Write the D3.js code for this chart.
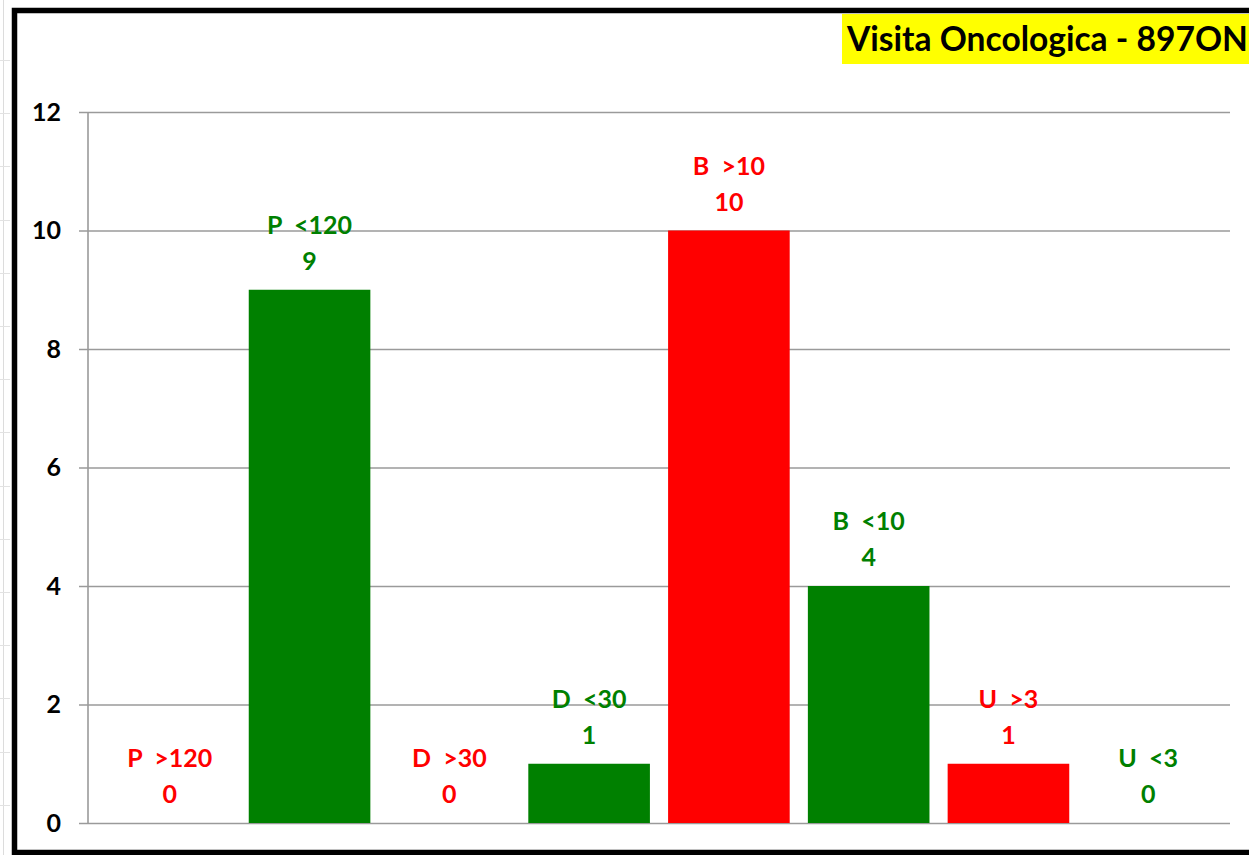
<!DOCTYPE html>
<html>
<head>
<meta charset="utf-8">
<script src="https://cdn.jsdelivr.net/npm/d3@7"></script>
<style>
  html, body { margin: 0; padding: 0; background: #fff; overflow: hidden; }
  svg { display: block; }
  text { font-family: Lato, "Open Sans", sans-serif; font-weight: bold; }
</style>
</head>
<body>
<svg id="chart" width="1249" height="855"></svg>
<script>
// ---- data ----
const categories = ["P  >120", "P  <120", "D  >30", "D  <30", "B  >10", "B  <10", "U  >3", "U  <3"];
const values = [0, 9, 0, 1, 10, 4, 1, 0];
const barColors = ["#FF0000", "#008000", "#FF0000", "#008000", "#FF0000", "#008000", "#FF0000", "#008000"];
const yTicks = [0, 2, 4, 6, 8, 10, 12];
const titleText = "Visita Oncologica - 897ON";

(function () {
const svg = d3.select("#chart");
const W = 1249, H = 855;

// faint spreadsheet cell lines at the far left
const rowLines = d3.range(60, H, 53.2);
svg.append("line").attr("x1", 3.5).attr("x2", 3.5).attr("y1", 0).attr("y2", H)
  .attr("stroke", "#dcdcdc").attr("stroke-width", 1);
svg.selectAll("line.row").data(rowLines).enter().append("line").attr("class", "row")
  .attr("x1", 0).attr("x2", 10).attr("y1", d => Math.round(d) + 0.5).attr("y2", d => Math.round(d) + 0.5)
  .attr("stroke", "#e2e2e2").attr("stroke-width", 1);

// chart frame
svg.append("rect").attr("x", 14.5).attr("y", 10.5).attr("width", 1300).attr("height", 842)
  .attr("fill", "#fff").attr("stroke", "#000").attr("stroke-width", 5.5);

const pL = 88, pR = 1230, pT = 112, pB = 823;

const x = d3.scaleBand().domain(categories).range([pL, pR]).paddingInner(0.13).paddingOuter(0.15);
const y = d3.scaleLinear().domain([0, 12]).range([pB, pT]);

// gridlines + ticks
const yAxis = d3.axisLeft(y).tickValues(yTicks).tickSize(-(pR - pL)).tickSizeOuter(0).tickPadding(27);
const gy = svg.append("g").attr("transform", `translate(${pL},0)`).call(yAxis);
gy.select(".domain").remove();
gy.selectAll(".tick line").attr("stroke", "#9a9a9a").attr("stroke-width", 1.6).attr("x1", -9);
gy.selectAll(".tick text").attr("fill", "#000").style("font-size", "25px")
  .style("font-family", "Lato, 'Open Sans', sans-serif").style("font-weight", "bold");

// vertical axis line
svg.append("line").attr("x1", pL).attr("x2", pL).attr("y1", y(12)).attr("y2", y(0))
  .attr("stroke", "#9a9a9a").attr("stroke-width", 1.6);

// bars
svg.selectAll("rect.bar").data(values).enter().append("rect").attr("class", "bar")
  .attr("x", (d, i) => x(categories[i]))
  .attr("width", x.bandwidth())
  .attr("y", d => y(d))
  .attr("height", d => y(0) - y(d))
  .attr("fill", (d, i) => barColors[i]);

// data labels
const lbl = svg.selectAll("g.lbl").data(values).enter().append("g").attr("class", "lbl");
lbl.append("text")
  .attr("x", (d, i) => x(categories[i]) + x.bandwidth() / 2)
  .attr("y", d => y(d) - 56)
  .attr("text-anchor", "middle").attr("fill", (d, i) => barColors[i])
  .style("font-size", "25px").style("white-space", "pre")
  .text((d, i) => categories[i]);
lbl.append("text")
  .attr("x", (d, i) => x(categories[i]) + x.bandwidth() / 2)
  .attr("y", d => y(d) - 20)
  .attr("text-anchor", "middle").attr("fill", (d, i) => barColors[i])
  .style("font-size", "25px")
  .text(d => d);

// title box
svg.append("rect").attr("x", 842).attr("y", 14).attr("width", 420).attr("height", 50).attr("fill", "#FFFF00");
const t = svg.append("text").attr("x", 847).attr("y", 51).attr("fill", "#000")
  .style("font-size", "32px").text(titleText);
const tw = t.node().getComputedTextLength();
t.style("font-size", (32 * 401 / tw).toFixed(2) + "px");
})();
</script>
</body>
</html>
